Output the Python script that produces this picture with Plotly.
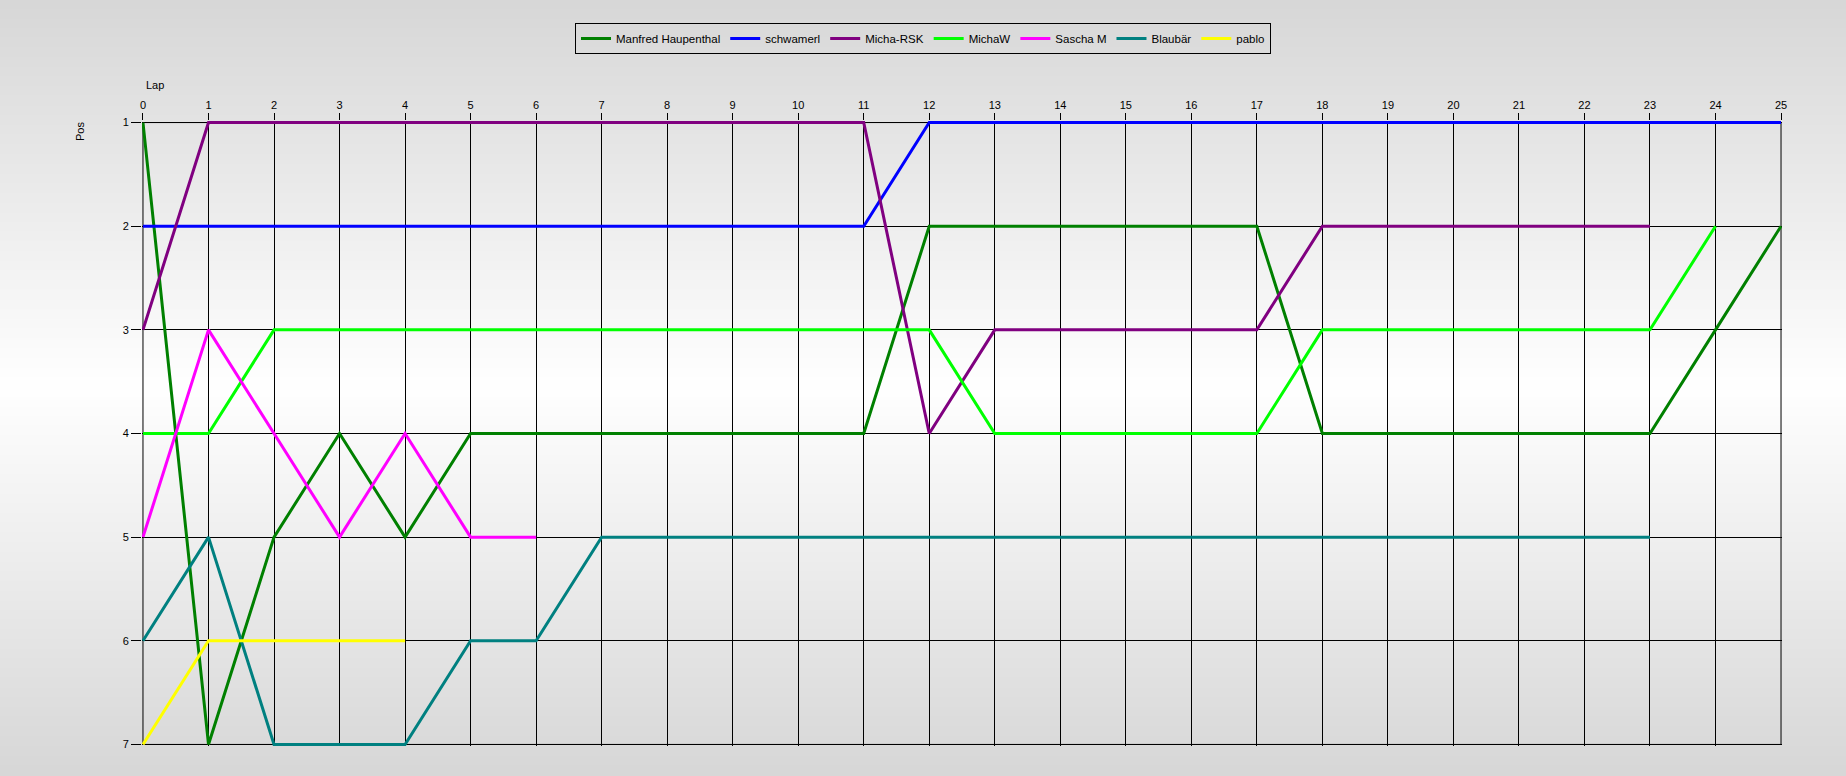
import plotly.graph_objects as go

laps = list(range(26))
series_names = ["Manfred Haupenthal", "schwamerl", "Micha-RSK", "MichaW", "Sascha M", "Blaubär", "pablo"]
manfred = [1, 7, 5, 4, 5, 4, 4, 4, 4, 4, 4, 4, 2, 2, 2, 2, 2, 2, 4, 4, 4, 4, 4, 4, 3, 2]
schwamerl = [2, 2, 2, 2, 2, 2, 2, 2, 2, 2, 2, 2, 1, 1, 1, 1, 1, 1, 1, 1, 1, 1, 1, 1, 1, 1]
micha_rsk = [3, 1, 1, 1, 1, 1, 1, 1, 1, 1, 1, 1, 4, 3, 3, 3, 3, 3, 2, 2, 2, 2, 2, 2]
michaw = [4, 4, 3, 3, 3, 3, 3, 3, 3, 3, 3, 3, 3, 4, 4, 4, 4, 4, 3, 3, 3, 3, 3, 3, 2]
sascha = [5, 3, 4, 5, 4, 5, 5]
blaubaer = [6, 5, 7, 7, 7, 6, 6, 5, 5, 5, 5, 5, 5, 5, 5, 5, 5, 5, 5, 5, 5, 5, 5, 5]
pablo = [7, 6, 6, 6, 6]
series_values = [manfred, schwamerl, micha_rsk, michaw, sascha, blaubaer, pablo]
colors = ["#008000", "#0000ff", "#800080", "#00ff00", "#ff00ff", "#008080", "#ffff00"]
pos_ticks = [1, 2, 3, 4, 5, 6, 7]

W, H = 1846, 776
L, R, T, B = 142, 64, 121, 30
pw, ph = W - L - R, H - T - B

fig = go.Figure()
for name, vals, c in zip(series_names, series_values, colors):
    fig.add_trace(go.Scatter(x=laps[:len(vals)], y=vals, mode="lines", name=name,
                             line=dict(color=c, width=3)))

# background vertical gradient (grey - white - grey)
shapes = []
n = 80
mid = 388
for i in range(n):
    py0 = H * i / n
    py1 = H * (i + 1) / n
    pc = (py0 + py1) / 2
    d = min(abs(pc - mid) / mid, 1.0)
    g = int(round(255 - (255 - 214) * d))
    col = f"rgb({g},{g},{g})"
    y0 = 1 - (py0 - T) / ph
    y1 = 1 - (py1 - T) / ph
    shapes.append(dict(type="rect", xref="paper", yref="paper", x0=-L / pw, x1=1 + R / pw,
                       y0=y1, y1=y0 + 0.002, fillcolor=col, line=dict(width=0), layer="below"))
# plot frame at the data limits, under the traces
shapes.append(dict(type="rect", xref="x", yref="y", x0=laps[0], x1=laps[-1],
                   y0=pos_ticks[0], y1=pos_ticks[-1], line=dict(color="black", width=1),
                   fillcolor="rgba(0,0,0,0)", layer="below"))

fig.update_layout(
    width=W, height=H,
    margin=dict(l=L, r=R, t=T, b=B),
    paper_bgcolor="#d6d6d6",
    plot_bgcolor="white",
    shapes=shapes,
    font=dict(family="Liberation Sans, Arial, sans-serif", size=11, color="black"),
    showlegend=True,
    legend=dict(orientation="h", x=(923 - L) / pw, xanchor="center",
                y=1 + (T - 23) / ph, yanchor="top",
                bgcolor="rgba(0,0,0,0)", bordercolor="black", borderwidth=1,
                font=dict(size=11.5), itemwidth=30, tracegroupgap=0),
    annotations=[
        dict(text="Lap", xref="paper", yref="paper", x=1.5 / pw, y=1 + (T - 85) / ph,
             xanchor="left", yanchor="middle", showarrow=False, font=dict(size=11)),
        dict(text="Pos", xref="paper", yref="paper", x=-(L - 80) / pw, y=1 - (132 - T) / ph,
             xanchor="center", yanchor="middle", showarrow=False, textangle=-90, font=dict(size=11)),
    ],
)
fig.update_xaxes(range=[-0.015, 25.015], side="top", tickmode="array", tickvals=laps,
                 ticktext=[str(v) for v in laps],
                 showgrid=True, gridcolor="black", gridwidth=1,
                 showline=False, ticks="outside", ticklen=7, tickcolor="black", zeroline=False,
                 layer="below traces")
fig.update_yaxes(range=[7.015, 0.985], tickmode="array", tickvals=pos_ticks,
                 ticktext=[str(v) for v in pos_ticks],
                 showgrid=True, gridcolor="black", gridwidth=1,
                 showline=False, ticks="outside", ticklen=10, tickcolor="black", zeroline=False,
                 layer="below traces")

fig.write_html("out.html")
